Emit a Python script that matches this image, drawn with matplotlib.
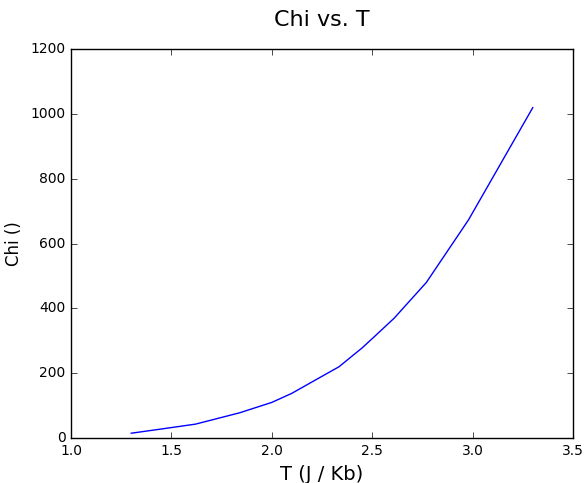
import matplotlib
matplotlib.use("Agg")
import matplotlib.pyplot as plt

# Chi vs temperature readings
T = [1.30, 1.45, 1.62, 1.84, 2.00, 2.10, 2.22, 2.335, 2.41, 2.45, 2.52, 2.61, 2.77, 2.98, 3.30]
chi = [15, 28, 43, 78, 110, 138, 180, 220, 258, 278, 318, 370, 480, 673, 1019]

plt.style.use("classic")

fig = plt.figure(figsize=(5.84, 4.83), dpi=100, facecolor="white")
ax = fig.add_axes([0.1216, 0.093, 0.8594, 0.8056])

ax.plot(T, chi, color="b", linewidth=1)

ax.set_xlim(1.0, 3.5)
ax.set_ylim(0, 1200)
ax.tick_params(labelsize=10)

ax.set_title("Chi vs. T", fontsize=16, y=1.04)
ax.set_xlabel("T (J / Kb)", fontsize=14)
ax.set_ylabel("Chi ()", fontsize=12)

fig.savefig("out.png", dpi=100, facecolor="white")
